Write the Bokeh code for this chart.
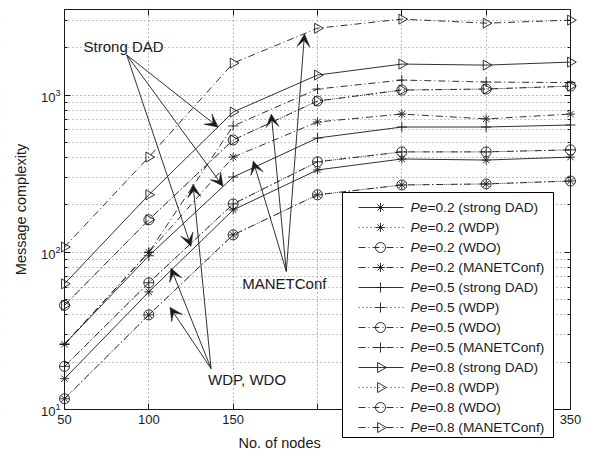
import numpy as np
from bokeh.plotting import figure
from bokeh.models import (Arrow, VeeHead, Label, FixedTicker, LogAxis, LinearAxis,
                          ColumnDataSource, BoxAnnotation)
from bokeh.core.properties import value
from bokeh.embed import file_html
from bokeh.resources import INLINE

# ---------------- data ----------------
nodes = [50, 100, 150, 200, 250, 300, 350]

pe02_strong = [15.7, 56, 186, 334, 392, 386, 403]
pe02_wdp = [11.7, 40, 129, 232, 268, 272, 284]
pe02_wdo = [11.7, 40, 129, 232, 268, 272, 284]
pe02_manet = [26, 100, 403, 674, 757, 705, 757]

pe05_strong = [26, 95, 301, 533, 626, 626, 645]
pe05_wdp = [18.8, 64, 203, 376, 435, 435, 448]
pe05_wdo = [18.8, 64, 203, 376, 435, 435, 448]
pe05_manet = [26, 100, 636, 1092, 1245, 1210, 1200]

pe08_strong = [63, 232, 780, 1340, 1574, 1550, 1620]
pe08_wdp = [46, 161, 518, 916, 1076, 1092, 1140]
pe08_wdo = [46, 161, 518, 916, 1076, 1092, 1140]
pe08_manet = [108, 403, 1596, 2660, 3040, 2865, 2995]

series_labels = [
    "=0.2 (strong DAD)", "=0.2 (WDP)", "=0.2 (WDO)", "=0.2 (MANETConf)",
    "=0.5 (strong DAD)", "=0.5 (WDP)", "=0.5 (WDO)", "=0.5 (MANETConf)",
    "=0.8 (strong DAD)", "=0.8 (WDP)", "=0.8 (WDO)", "=0.8 (MANETConf)",
]
series_values = [pe02_strong, pe02_wdp, pe02_wdo, pe02_manet,
                 pe05_strong, pe05_wdp, pe05_wdo, pe05_manet,
                 pe08_strong, pe08_wdp, pe08_wdo, pe08_manet]

x_min, x_max = 50, 350
y_min, y_max = 10, 3500
x_tick_values = [50, 100, 150, 200, 250, 300, 350]
x_tick_labels = ["50", "100", "150", "", "", "", "350"]
y_major_ticks = [10, 100, 1000]
y_minor_ticks = [20, 30, 40, 50, 60, 70, 80, 90, 200, 300, 400, 500, 600, 700, 800, 900, 2000, 3000]
x_title = "No. of nodes"
y_title = "Message complexity"

# annotation groups: text, text anchor, arrow start, arrow ends (data coords)
ann_strong = dict(text="Strong DAD", pos=(61.3, 2022), start=(86.9, 1798),
                  ends=[(141.1, 625), (144.0, 263), (125.0, 109)])
ann_manet = dict(text="MANETConf", pos=(155.4, 63.7), start=(181.5, 75.6),
                 ends=[(192.3, 2448), (172.6, 757), (161.9, 380)])
ann_wdp = dict(text="WDP, WDO", pos=(135.1, 15.5), start=(136.9, 18.2),
               ends=[(126.2, 271), (113.1, 79.3), (112.5, 44.7)])

# ---------------- styles / layout ----------------
FONT = "Liberation Sans"
INK = "#1a1a1a"
dash_list = ["solid", "1 3", "7 3 1 3", "7 3 1 3"] * 3
markers = ["asterisk", "asterisk", "circle", "asterisk",
           "cross", "cross", "circle", "cross",
           "triangle", "triangle", "circle", "triangle"]
marker_size = {"asterisk": 9, "cross": 10, "circle": 10, "triangle": 10}
marker_angle = {"asterisk": 0.0, "cross": 0.0, "circle": 0.0, "triangle": -np.pi / 2}

W, H = 594, 457
AX_L, AX_R, AX_T, AX_B = 64, 570, 9, 409     # axes box in page pixels
x_per_px = (x_max - x_min) / (AX_R - AX_L)
dec_px = (AX_B - AX_T) / np.log10(y_max / y_min)
x_lo = x_min - AX_L * x_per_px
x_hi = x_max + (W - AX_R) * x_per_px
y_hi = y_max * 10 ** (AX_T / dec_px)
y_lo = y_min * 10 ** (-(H - AX_B) / dec_px)


def X(px):
    return x_min + (px - AX_L) * x_per_px


def Y(py):
    return y_min * 10 ** ((AX_B - py) / dec_px)


p = figure(width=W, height=H, x_range=(x_lo, x_hi), y_range=(y_lo, y_hi),
           y_axis_type="log", output_backend="svg", toolbar_location=None,
           min_border=0)
p.outline_line_color = None
p.background_fill_color = "white"
p.border_fill_color = "white"

# ---------------- grid ----------------
p.xgrid.grid_line_color = "#777777"
p.xgrid.grid_line_dash = "1 3"
p.ygrid.grid_line_color = "#777777"
p.ygrid.grid_line_dash = "1 3"
p.ygrid.minor_grid_line_color = "#888888"
p.ygrid.minor_grid_line_dash = "1 3"
# white covers outside the axes box (grid lines span the whole frame)
for kw in (dict(right=x_min), dict(left=x_max), dict(bottom=y_max), dict(top=y_min)):
    p.add_layout(BoxAnnotation(fill_color="white", fill_alpha=1.0, line_color=None,
                               level="underlay", **kw))

# ---------------- series ----------------
for lab, vals, dash, mk in zip(series_labels, series_values, dash_list, markers):
    src = ColumnDataSource(dict(x=nodes, y=vals))
    p.line("x", "y", source=src, line_color=INK, line_width=0.9, line_dash=dash)
    p.scatter("x", "y", source=src, marker=mk, size=marker_size[mk],
              angle=marker_angle[mk], line_color=INK, fill_color=None, line_width=0.9)

# ---------------- axes (fixed inside the frame) ----------------
xa = p.xaxis[0]
ya = p.yaxis[0]
xa.ticker = FixedTicker(ticks=x_tick_values)
xa.major_label_overrides = {v: t for v, t in zip(x_tick_values, x_tick_labels)}
xa.fixed_location = y_min
xa.bounds = (x_min, x_max)
ya.ticker = FixedTicker(ticks=y_major_ticks, minor_ticks=y_minor_ticks)
ya.fixed_location = x_min
ya.bounds = (y_min, y_max)

for ax in (xa, ya):
    ax.axis_line_color = INK
    ax.axis_line_width = 1
    ax.major_tick_in = 6
    ax.major_tick_out = 0
    ax.minor_tick_in = 3
    ax.minor_tick_out = 0
    ax.major_tick_line_color = INK
    ax.minor_tick_line_color = INK
    ax.major_label_text_font = FONT
    ax.major_label_text_font_size = "13px"
    ax.major_label_text_color = INK
    ax.axis_label_text_font = FONT
    ax.axis_label_text_font_size = "14.5px"
    ax.axis_label_text_font_style = "normal"
    ax.axis_label_text_color = INK
xa.minor_tick_line_color = None
xa.major_label_standoff = 5
ya.axis_label = y_title
ya.major_label_standoff = 4
ya.axis_label_standoff = 9

# x title sits left of the legend (shifted off-centre, as in the original)
p.add_layout(Label(x=X(238), y=Y(442), text=x_title, text_font=FONT,
                   text_font_size="14.5px", text_color=INK,
                   text_baseline="middle", text_align="left"))

top_ax = LinearAxis(ticker=FixedTicker(ticks=x_tick_values), fixed_location=y_max,
                    bounds=(x_min, x_max), axis_line_color=INK,
                    major_tick_in=6, major_tick_out=0, minor_tick_line_color=None,
                    major_label_text_font_size="1px", major_label_text_color=None,
                    major_label_standoff=0, major_tick_line_color=INK)
right_ax = LogAxis(ticker=FixedTicker(ticks=y_major_ticks, minor_ticks=y_minor_ticks),
                   fixed_location=x_max, bounds=(y_min, y_max), axis_line_color=INK,
                   major_tick_in=6, major_tick_out=0, minor_tick_in=3, minor_tick_out=0,
                   major_label_text_font_size="1px", major_label_text_color=None,
                   major_label_standoff=0, major_tick_line_color=INK,
                   minor_tick_line_color=INK)
p.add_layout(top_ax, "above")
p.add_layout(right_ax, "right")

# ---------------- annotations ----------------
for ann in (ann_strong, ann_manet, ann_wdp):
    p.add_layout(Label(x=ann["pos"][0], y=ann["pos"][1], text=ann["text"],
                       text_font=FONT, text_font_size="15px", text_color=INK,
                       text_baseline="middle", text_align="left"))
    for ex, ey in ann["ends"]:
        p.add_layout(Arrow(x_start=ann["start"][0], y_start=ann["start"][1],
                           x_end=ex, y_end=ey, line_color=INK, line_width=0.9,
                           end=VeeHead(size=13, fill_color=INK, line_color=INK,
                                       line_width=0.5)))

# ---------------- legend (drawn as glyphs above the axes) ----------------
LG_L, LG_R, LG_T, LG_B = 342, 553, 192, 437   # legend box, page px
row0, row_step = 207, 20
seg_x0, seg_x1, mk_x, pe_x, lab_x = 358, 403, 380, 410, 427
LEG_FS = "13.7px"

p.quad(left=[X(LG_L)], right=[X(LG_R)], top=[Y(LG_T)], bottom=[Y(LG_B)],
       fill_color="white", line_color="black", line_width=1, level="annotation")
row_ys = [Y(row0 + row_step * i) for i in range(len(series_labels))]
for ry, dash in zip(row_ys, dash_list):
    p.segment(x0=[X(seg_x0)], y0=[ry], x1=[X(seg_x1)], y1=[ry], line_color=INK,
              line_width=0.9, line_dash=dash, level="annotation")
leg_src = ColumnDataSource(dict(
    x=[X(mk_x)] * len(row_ys), y=row_ys, marker=markers,
    size=[marker_size[m] for m in markers], angle=[marker_angle[m] for m in markers]))
p.scatter("x", "y", source=leg_src, marker="marker", size="size", angle="angle",
          line_color=INK, fill_color=None, line_width=0.9, level="annotation")
p.text(x=[X(pe_x)] * len(row_ys), y=row_ys, text=["Pe"] * len(row_ys),
       text_font=value(FONT), text_font_size=LEG_FS, text_font_style="italic",
       text_color=INK, text_baseline="middle", text_align="left", level="annotation")
p.text(x=[X(lab_x)] * len(row_ys), y=row_ys, text=series_labels,
       text_font=value(FONT), text_font_size=LEG_FS,
       text_color=INK, text_baseline="middle", text_align="left", level="annotation")

open("out.html", "w").write(file_html(p, INLINE))
